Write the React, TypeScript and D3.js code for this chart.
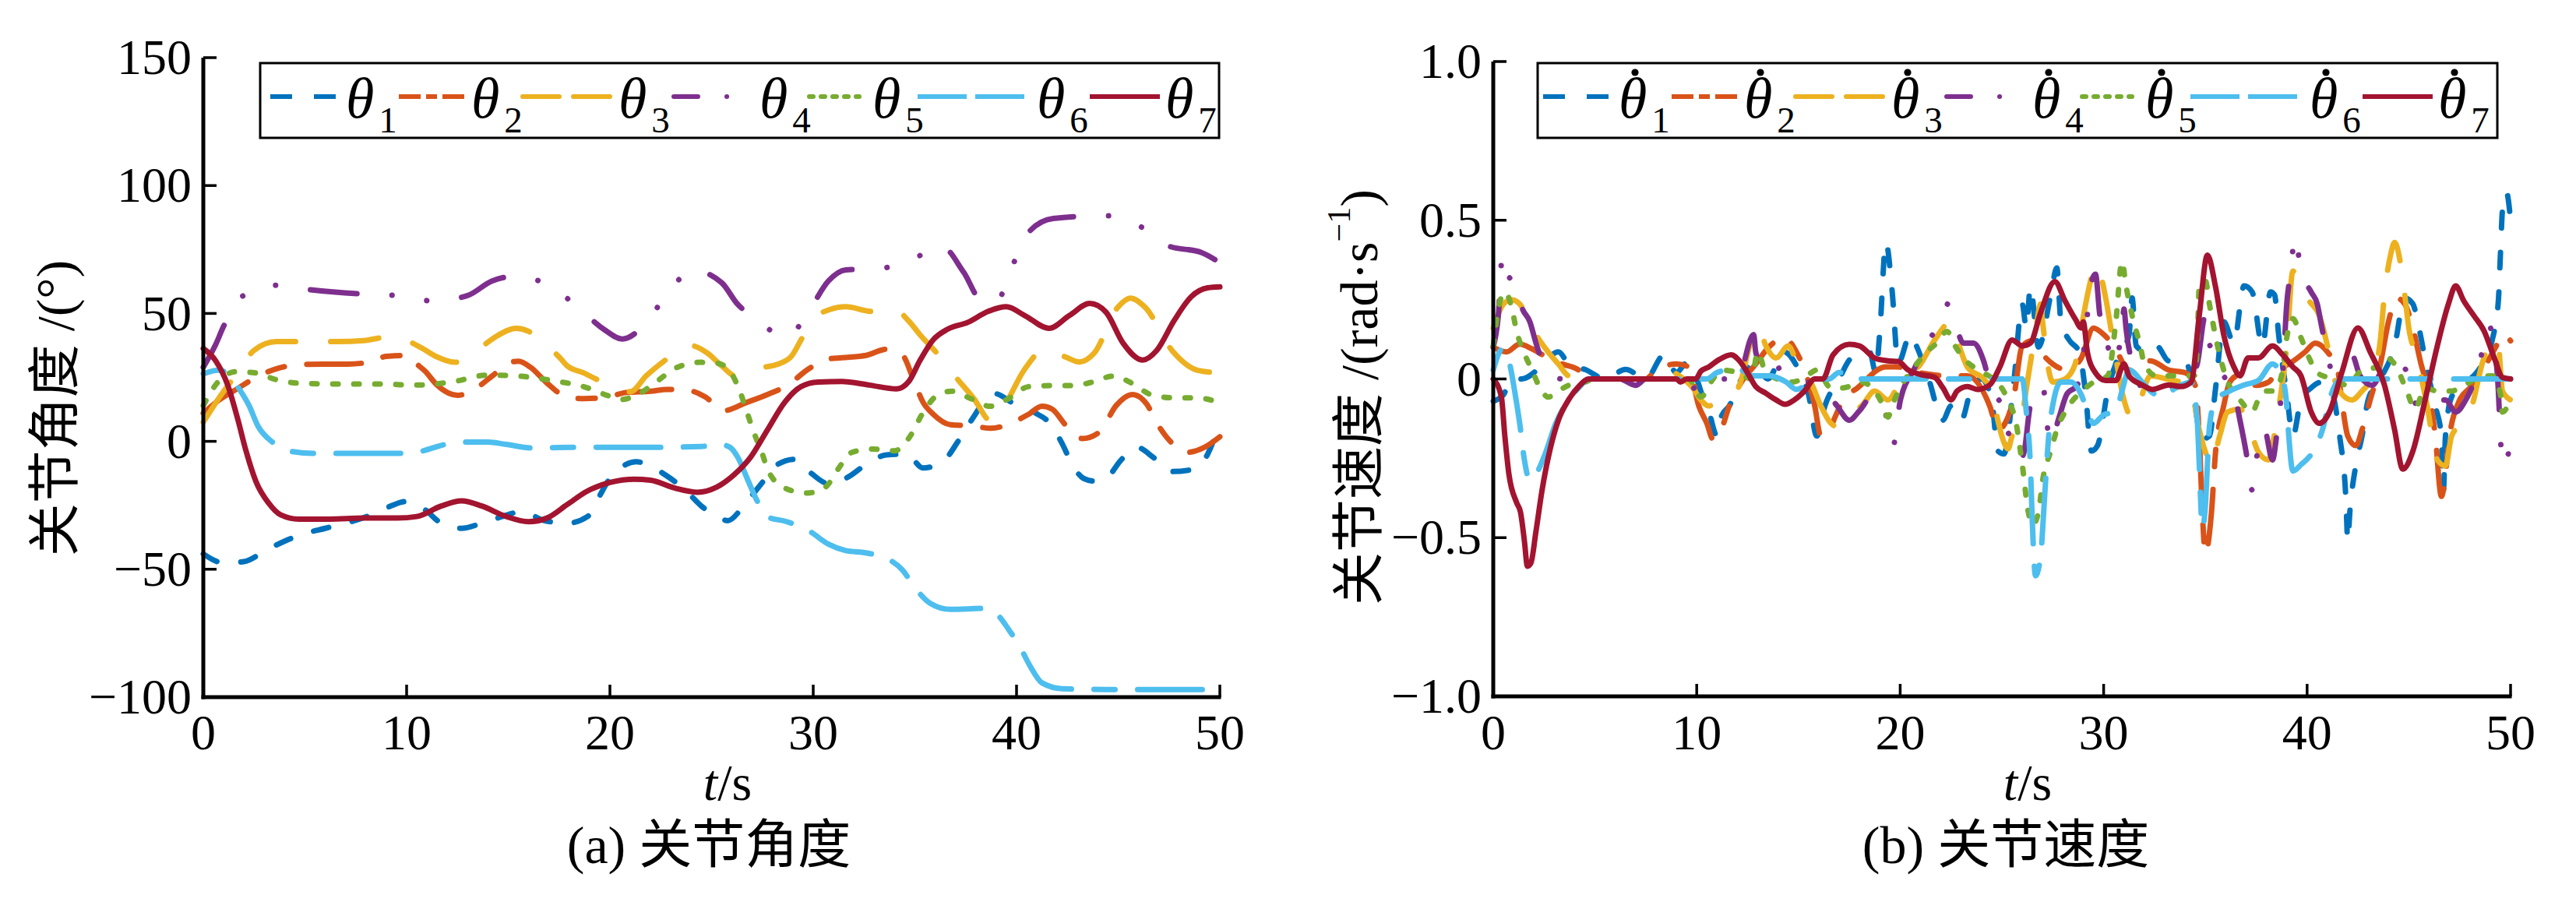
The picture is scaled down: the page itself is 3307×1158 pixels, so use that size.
import React from 'react';
import * as d3 from 'd3';

type Pt = [number, number];

const COLORS = ['#0072BD', '#D95319', '#EDB120', '#7E2F8E', '#77AC30', '#4DBEEE', '#A2142F'];
const X_TICKS = [0, 10, 20, 30, 40, 50];
const ANGLE_TICKS = [-100, -50, 0, 50, 100, 150];
const ANGLE_TICK_LABELS = ['\u2212100', '\u221250', '0', '50', '100', '150'];
const VEL_TICKS = [-1, -0.5, 0, 0.5, 1];
const VEL_TICK_LABELS = ['\u22121.0', '\u22120.5', '0', '0.5', '1.0'];
const SUBSCRIPTS = ['1', '2', '3', '4', '5', '6', '7'];

// ---- joint angles (deg) ----
const ANGLE_1: Pt[] = [[0,-44],[1,-47.5],[2,-47],[3,-43],[4,-39],[5,-36],[6,-34],[7,-32],[8,-29.5],[9,-26],[10,-23.5],[10.9,-26.7],[11.7,-32],[12.7,-34],[13.7,-32],[14.7,-29.4],[15.7,-27.4],[16.7,-30.8],[17.9,-32],[18.9,-29.4],[19.4,-22.6],[20,-14.5],[20.8,-9],[21.3,-8],[21.9,-9.3],[22.7,-13],[23.7,-19],[24.5,-25.3],[25.2,-29],[25.8,-31],[26.5,-26],[26.9,-22],[27.6,-15],[28.1,-9.8],[29.1,-7],[29.9,-12.5],[30.75,-16.5],[31.75,-13.8],[32.6,-9],[33.6,-5.3],[34.6,-5],[35.4,-10.4],[36.4,-7.7],[37.1,-0.3],[37.75,7.9],[38.9,18.7],[39.9,14.6],[40.9,11.2],[41.7,6.5],[42.25,-1],[42.7,-8.4],[43.3,-14.5],[43.9,-15.6],[44.5,-13.8],[45.1,-7.7],[45.9,-2.3],[46.75,-6.4],[47.6,-11.8],[48.6,-11.1],[49.4,-5],[49.75,1.8],[50,8.5]];
const ANGLE_2: Pt[] = [[0,11],[0.75,16],[1.7,20.7],[2.7,25.5],[3.7,28.6],[4.7,30],[5.9,30.2],[7.1,30.2],[8.1,30.9],[9,33.2],[10,33.6],[10.5,30.2],[10.9,27.5],[11.5,22],[12.5,18],[13.4,20.7],[14.2,25.5],[15.1,30.9],[15.5,31.3],[16.1,28.9],[16.9,22.8],[17.9,17.3],[18.7,16.7],[19.85,17.3],[20.8,19.1],[22,19.6],[22.8,20.3],[23.8,20],[24.7,17.3],[25.6,12],[26.75,15.3],[27.75,18.3],[28.75,22],[29.75,28.2],[30.75,32.2],[31.4,32.7],[32.6,33.6],[33.6,36],[34.4,33.6],[34.9,24.8],[35.4,15.3],[35.9,10.6],[36.75,6.5],[37.75,6.1],[38.75,5.1],[39.75,7.2],[40.6,10.6],[41.25,13.7],[41.75,12.6],[42.4,6.5],[43.25,1.1],[44.1,3.8],[44.9,14],[45.7,18.3],[46.4,14.6],[46.9,7.2],[47.6,-0.3],[48.4,-4.3],[49.25,-2.3],[50,1.8]];
const ANGLE_3: Pt[] = [[0,7.5],[0.75,16.7],[1.6,26],[2.5,35.6],[3.6,39],[4.9,39],[6.6,39],[7.9,39.4],[9.1,40.8],[9.9,39.7],[10.7,36.7],[11.5,33],[12.4,30.9],[13,33],[13.7,37],[14.4,41],[15.4,44.2],[16,43],[16.7,38.6],[17.5,33],[17.9,29.5],[18.7,26.8],[19.5,23.7],[20.3,21.7],[21,19.4],[21.8,25.7],[22.7,31.6],[23.8,37.7],[24.8,34.5],[25.5,29.5],[26.2,25.5],[27.2,28.5],[28.2,30],[28.9,33],[29.5,41],[30.2,49],[30.8,51.5],[31.6,52.6],[32.9,50.8],[34.1,51],[34.7,47],[35.25,41.7],[36.1,34.3],[36.9,26.2],[37.9,16.7],[38.75,7.9],[39.4,14],[40.4,28.2],[41.4,36],[42.4,33],[43.1,31],[43.8,34.3],[45,52.6],[45.6,56],[46.3,52.6],[47.7,35],[48.9,27.8],[50,26.8]];
const ANGLE_4: Pt[] = [[0,29],[0.6,37.7],[1,45],[1.9,56.6],[3.5,61],[5.2,59.3],[7.8,57.6],[9.5,57],[11.3,54.9],[13,57],[14.2,62.7],[15.3,64.5],[17,61],[18.4,52.6],[19.7,43.8],[20.6,40],[21.8,46.5],[22.8,57.6],[24.1,66.8],[25.5,62],[26.25,53.9],[27.2,47.6],[28.7,40.8],[29.8,51.2],[30.75,62.7],[31.6,67],[33.2,67.5],[34.75,70.6],[36.3,76.3],[37.4,66.1],[38.25,55.3],[39,54.6],[39.75,67.5],[40.45,80.4],[41.8,87.1],[44.4,88.2],[46,84.4],[47.5,76.3],[49.1,73.8],[50,69.8]];
const ANGLE_5: Pt[] = [[0,14],[0.6,22],[1.6,27.2],[2.5,26.8],[3.6,24.1],[4.6,22.8],[6.6,22.4],[8.6,22.4],[10.5,22],[12.2,23.2],[14,25.9],[15.5,25.5],[17.2,23.7],[18.7,21.4],[19.85,18],[20.5,16.3],[21.3,18],[22.3,23.4],[23.3,28.9],[24.5,30.9],[25.3,30.5],[26,26.2],[26.4,19.4],[26.75,11.2],[27.1,3.1],[27.5,-5],[27.8,-11.8],[28.7,-18.6],[29.7,-20.2],[30.6,-17.9],[31.2,-11.1],[31.9,-4.3],[32.9,-3],[34,-3.7],[34.75,1.8],[35.4,11.2],[36.1,18],[36.8,19.6],[37.75,16.7],[38.7,13.7],[39.6,16.7],[40.6,21.4],[41.75,21.8],[42.75,21.8],[43.75,23.2],[44.75,25.5],[45.75,22.4],[46.6,18.3],[47.75,17],[48.9,17],[50,15]];
const ANGLE_6: Pt[] = [[0,26.4],[0.75,27.8],[1.25,26.2],[1.75,20.7],[2.25,14],[2.7,5.8],[3.4,-0.3],[4.3,-3.9],[5.4,-4.7],[7.1,-4.7],[9.7,-4.7],[10.7,-3.9],[11.9,-1.2],[12.9,-0.3],[14,-0.3],[14.9,-1.2],[16.2,-2.6],[18.2,-2.3],[20.3,-2.3],[22.5,-2.3],[24.5,-2],[25.4,-1.2],[25.9,-2.3],[26.3,-6.4],[26.75,-14.5],[27.2,-22.6],[27.7,-29.4],[28.7,-31.4],[29.75,-34.8],[30.75,-40.2],[31.6,-42.7],[32.6,-43.6],[33.75,-46.3],[34.4,-50.4],[35,-57.2],[35.75,-63.3],[36.75,-65.7],[38.4,-65.3],[39,-67.3],[39.6,-73.4],[40.2,-80.9],[40.7,-88.3],[41.25,-94.4],[42.25,-96.7],[44.4,-97],[50,-97]];
const ANGLE_7: Pt[] = [[0,36.3],[0.6,31.6],[1.2,22],[1.7,8.5],[2.1,-3.7],[2.6,-15.9],[3.2,-24],[3.8,-28.7],[4.7,-30.4],[6.2,-30.4],[7.9,-30],[9.55,-30],[10.5,-29.4],[11.7,-25.3],[12.7,-23.3],[13.7,-25.3],[14.9,-29.4],[16,-31.4],[16.9,-30],[17.9,-24.7],[18.85,-19.6],[20,-16.1],[21.2,-14.8],[22,-15.2],[23.2,-18.3],[24.3,-19.9],[25.25,-17.9],[26.1,-13.1],[26.9,-6.4],[27.75,4.5],[28.6,15.3],[29.4,21.4],[30.25,23.2],[31.4,23.4],[32.75,22],[34.1,20.5],[34.7,23.4],[35.25,31.6],[35.9,39.7],[36.6,43.8],[37.6,46.5],[38.6,50.8],[39.5,52.6],[40.4,49.2],[41.6,44.2],[42.6,49.2],[43.6,53.9],[44.4,50.5],[45.25,38.3],[46.2,31.8],[46.9,35.6],[47.75,47.2],[48.6,56.6],[49.4,60],[50,60.4]];

// ---- joint velocities (rad/s) ----
const VEL_1: Pt[] = [[0,-0.07],[0.5,-0.05],[0.9,0],[1.4,0],[2.2,0.03],[3.2,0.085],[3.8,0.04],[4.5,0.03],[5.5,0],[6.5,0.03],[7.5,0],[8.4,0.076],[9,0.02],[9.5,0.05],[10,0],[10.3,-0.057],[10.6,-0.104],[11,-0.18],[11.2,-0.12],[11.6,-0.085],[12.2,0],[12.8,0.05],[13.5,0],[14.3,0.085],[15,0.03],[15.5,-0.05],[15.9,-0.18],[16.3,-0.085],[17,0],[17.6,0.066],[18.5,0.085],[18.8,0.02],[19,0.15],[19.3,0.43],[19.6,0.28],[19.9,0.05],[20.5,0.14],[20.8,0.104],[21.4,0],[22.1,-0.13],[22.5,-0.085],[23,-0.13],[23.5,-0.03],[24,0],[24.5,-0.066],[24.8,-0.227],[25.1,-0.236],[25.6,0],[26,0.236],[26.2,0.16],[26.4,0.29],[26.8,0.1],[27.4,0.265],[27.7,0.35],[27.9,0.18],[28.3,0.123],[28.8,0.085],[29.1,-0.038],[29.4,-0.227],[29.7,-0.21],[30.2,-0.038],[30.7,0.066],[31.25,0.14],[31.4,0.255],[31.6,0.104],[32.1,0.085],[32.6,0.104],[33.2,0.057],[34,0.057],[34.3,0],[34.5,-0.085],[34.8,-0.19],[35.2,-0.18],[35.5,-0.03],[35.9,0.18],[36.4,0.113],[36.9,0.293],[37.3,0.274],[37.8,0.104],[38.2,0.274],[38.4,0.265],[38.6,0.14],[39,-0.047],[39.3,-0.18],[39.7,-0.066],[40.2,-0.028],[40.7,-0.01],[41.2,-0.038],[41.6,-0.18],[41.9,-0.37],[42,-0.51],[42.1,-0.42],[42.4,-0.27],[42.7,-0.18],[43,-0.066],[43.6,0],[44.3,0.104],[44.8,0.255],[45.2,0.236],[45.5,0.16],[45.9,0.028],[46.3,-0.085],[46.6,-0.18],[46.7,-0.35],[46.8,-0.18],[47.1,-0.057],[47.5,-0.028],[48.6,0.047],[49.1,0.123],[49.4,0.246],[49.5,0.39],[49.6,0.53],[49.8,0.587],[50,0.5]];
const VEL_2: Pt[] = [[0,0.1],[0.65,0.085],[1.3,0.11],[1.9,0.095],[2.7,0.066],[3.4,0.047],[4.2,0.028],[4.7,0],[7.5,0],[8,0.028],[9,0.047],[9.6,0.038],[10.1,-0.085],[10.5,-0.14],[10.8,-0.19],[11.2,-0.16],[11.6,-0.085],[12.1,-0.02],[12.9,0.047],[13.6,0.104],[14.3,0.13],[14.9,0.085],[15.4,0.01],[15.8,-0.085],[16.1,-0.18],[16.45,-0.17],[16.8,-0.12],[17.2,-0.066],[17.9,-0.028],[19.3,0.038],[19.8,0.038],[21,0.019],[22.3,0.01],[23.3,0.01],[24.4,-0.085],[24.8,-0.16],[25.3,-0.12],[25.6,-0.05],[26,0.104],[26.5,0.12],[26.9,0.085],[27.5,0.047],[28.2,0.028],[28.9,0.066],[29.5,0.16],[30,0.14],[30.5,0.104],[31.25,0.028],[32.3,0.057],[33.2,0.028],[34,0.02],[34.5,-0.02],[34.7,-0.18],[34.85,-0.42],[35,-0.55],[35.3,-0.42],[35.5,-0.23],[35.9,-0.085],[36.2,-0.01],[36.6,0.01],[37.5,-0.02],[38.1,-0.01],[38.6,0.03],[39.1,0.047],[39.9,0.085],[40.4,0.113],[41,0.085],[41.5,0.028],[41.7,-0.066],[42,-0.18],[42.4,-0.21],[42.7,-0.16],[43.1,-0.066],[43.6,0.047],[44,0.18],[44.4,0.255],[44.8,0.236],[45.2,0.16],[45.6,0.047],[46,-0.047],[46.3,-0.18],[46.6,-0.37],[46.7,-0.35],[47,-0.18],[47.5,-0.066],[48,-0.028],[48.8,0.047],[49.3,0.104],[49.6,0.14],[50,0.12]];
const VEL_3: Pt[] = [[0,0.16],[0.5,0.236],[0.9,0.25],[1.3,0.236],[1.65,0.2],[2.1,0.14],[2.7,0.085],[3.2,0.047],[3.7,0.01],[4.5,0],[8,0],[8.3,0.038],[8.9,0.02],[9.8,-0.028],[10.2,-0.066],[10.6,-0.085],[11.1,-0.066],[11.6,-0.057],[12.1,-0.02],[12.6,0.104],[13,0.17],[13.4,0.104],[13.9,0.066],[14.5,0.104],[15.05,0.028],[15.6,-0.01],[16.1,-0.085],[16.6,-0.14],[16.9,-0.15],[17.5,-0.104],[18.1,-0.085],[18.75,-0.038],[19.4,-0.066],[20,-0.01],[21,0.047],[21.7,0.123],[22.5,0.18],[23,0.085],[23.3,0.038],[24.1,0],[24.5,-0.038],[24.8,-0.13],[25,-0.18],[25.3,-0.22],[25.5,-0.18],[25.9,-0.14],[26.3,0.01],[26.7,0.17],[26.9,0.236],[27,0.18],[27.3,0.028],[27.5,-0.01],[28.1,0],[28.6,0.047],[28.9,0.16],[29.3,0.293],[29.6,0.36],[29.8,0.34],[30.1,0.255],[30.5,0.104],[31,-0.066],[31.4,-0.123],[31.8,-0.066],[32.3,0.01],[33.1,0],[33.8,-0.01],[34.3,-0.02],[34.6,-0.13],[35,-0.23],[35.3,-0.27],[35.7,-0.18],[36.1,-0.104],[36.7,-0.095],[37.3,-0.18],[37.6,-0.23],[38.1,-0.255],[38.5,-0.13],[39,0.104],[39.3,0.34],[39.7,0.29],[40.1,0.246],[40.6,0.2],[41,0.104],[41.3,0.01],[41.7,-0.047],[42.2,-0.066],[42.7,-0.038],[43.2,0.01],[43.6,0.123],[43.8,0.265],[44.1,0.39],[44.3,0.43],[44.6,0.36],[44.8,0.265],[45,0.16],[45.4,0.066],[45.9,-0.085],[46.4,-0.255],[46.8,-0.274],[47.1,-0.18],[47.6,-0.14],[48.1,-0.085],[48.6,0.047],[49.1,0.123],[49.4,0.104],[49.6,-0.038],[50,-0.066]];
const VEL_4: Pt[] = [[0,0.1],[0.25,0.2],[0.45,0.39],[0.6,0.34],[1.15,0.29],[1.4,0.227],[1.8,0.18],[2.1,0.113],[2.4,0.057],[2.9,0.01],[3.4,0],[5.2,0],[5.7,-0.028],[6.2,0],[7,-0.02],[7.5,0],[9.2,0],[9.7,-0.038],[10.2,0],[12,0],[12.8,0.14],[12.9,0.085],[13.4,0.019],[14.3,0.038],[15,0],[15.9,-0.02],[16.45,-0.047],[16.9,-0.085],[17.5,-0.13],[18,-0.1],[18.6,-0.057],[19.1,-0.066],[19.5,-0.18],[19.65,-0.21],[20,-0.07],[20.8,0.047],[21.2,0.123],[21.6,0.14],[22,0.2],[22.3,0.236],[22.6,0.2],[23.1,0.113],[23.6,0.113],[24.1,0.057],[24.5,-0.038],[25,-0.085],[25.1,-0.14],[25.4,-0.18],[25.9,-0.255],[26.1,-0.227],[26.4,-0.085],[26.8,-0.047],[27,-0.02],[27.3,-0.18],[27.4,-0.2],[27.8,-0.123],[28.2,-0.047],[28.7,-0.02],[29.2,0.2],[29.3,0.274],[29.6,0.33],[29.8,0.208],[30.2,0.104],[30.5,0.047],[30.9,0.16],[31,0.22],[31.1,0.16],[31.5,0.028],[32.1,-0.038],[33,-0.028],[33.7,-0.02],[34.3,0],[34.6,0.047],[35,0.2],[35.1,0.14],[35.5,0.066],[35.9,0.01],[36.4,-0.038],[36.7,-0.13],[37,-0.23],[37.3,-0.35],[37.5,-0.255],[37.9,-0.16],[38.3,-0.255],[38.5,-0.18],[38.8,0.01],[39,0.236],[39.2,0.34],[39.4,0.45],[39.7,0.34],[40.2,0.274],[40.5,0.236],[40.7,0.17],[41.1,0.047],[41.5,-0.038],[42,0.057],[42.2,0.076],[42.6,0.01],[43.2,-0.02],[43.9,0.047],[44.5,0.047],[45,0.01],[45.4,-0.085],[45.8,-0.057],[46.3,-0.066],[46.8,-0.066],[47.3,-0.104],[47.8,-0.066],[48.3,0.01],[48.7,0.113],[48.9,0.17],[49.2,0.104],[49.4,-0.038],[49.5,-0.18],[49.6,-0.274],[50,-0.21]];
const VEL_5: Pt[] = [[0,0.104],[0.3,0.236],[0.57,0.274],[0.9,0.227],[1.15,0.15],[1.5,0.085],[1.9,0.028],[2.3,-0.028],[2.7,-0.057],[3.2,-0.038],[3.7,-0.02],[4.5,-0.01],[5,0],[9.6,0],[10.2,-0.057],[10.8,0],[11.2,0.028],[12,0.02],[12.7,0],[13,0.085],[13.4,0.02],[14.7,-0.01],[15.4,0.01],[15.9,0.028],[16.6,-0.028],[17.2,-0.028],[18.1,-0.01],[19.1,-0.076],[19.4,-0.12],[19.6,-0.085],[20,-0.028],[20.7,0.038],[21.3,0.085],[21.8,0.113],[22.3,0.15],[22.7,0.104],[23.1,0.066],[23.6,0.038],[24.1,0.019],[24.9,-0.02],[25.3,-0.066],[25.7,-0.14],[26,-0.27],[26.3,-0.42],[26.5,-0.46],[26.8,-0.42],[27,-0.32],[27.4,-0.227],[27.7,-0.16],[28.1,-0.104],[28.5,-0.066],[28.8,-0.047],[29.5,-0.01],[30.2,0.01],[30.6,0.18],[30.9,0.37],[31.1,0.293],[31.4,0.2],[31.8,0.104],[32,0.047],[32.6,0.01],[33.2,0.01],[34.45,0.01],[34.6,0.104],[34.7,0.293],[35,0.31],[35.2,0.236],[35.6,0.104],[36.1,-0.01],[36.7,-0.066],[37.3,-0.104],[37.6,-0.066],[38,-0.038],[38.4,-0.038],[38.8,0.028],[39,0.13],[39.3,0.19],[39.7,0.13],[40.1,0.066],[40.5,0.019],[41.3,0],[42,-0.02],[42.7,0.028],[43.5,0.038],[43.9,0.066],[44.3,0.047],[44.9,-0.038],[45.3,-0.095],[45.8,-0.028],[46.4,-0.038],[47.1,-0.038],[47.7,-0.02],[48.3,0],[49.1,0.01],[49.5,-0.047],[49.6,-0.104],[50,-0.066]];
const VEL_6: Pt[] = [[0,0.028],[0.45,0.095],[0.77,0.057],[1.1,-0.057],[1.3,-0.14],[1.53,-0.255],[1.8,-0.32],[2.1,-0.3],[2.55,-0.236],[3.06,-0.142],[3.6,-0.076],[4.2,-0.028],[4.7,0],[10.5,0],[11,0.02],[12,0.033],[12.75,0.01],[13.6,0.01],[14.4,-0.01],[14.9,-0.033],[15.4,-0.019],[15.9,0],[16.5,0],[17,0.02],[17.5,0.02],[18,0],[26,0],[26.2,-0.104],[26.4,-0.274],[26.5,-0.46],[26.65,-0.62],[26.9,-0.56],[27.1,-0.37],[27.3,-0.18],[27.55,-0.066],[27.9,-0.01],[28.4,-0.01],[28.9,-0.05],[29.2,-0.1],[29.5,-0.14],[30,-0.113],[30.6,-0.104],[30.9,-0.038],[31.25,0.028],[31.9,-0.01],[32.3,-0.038],[32.9,-0.057],[33.5,-0.03],[34.3,-0.01],[34.6,-0.13],[34.7,-0.27],[34.85,-0.47],[35,-0.4],[35.1,-0.27],[35.2,-0.15],[35.5,-0.066],[36.2,-0.038],[36.9,-0.019],[37.6,-0.005],[38.3,0.047],[38.8,0],[39,-0.085],[39.1,-0.18],[39.3,-0.29],[39.7,-0.27],[40.3,-0.227],[40.8,-0.15],[41.1,-0.066],[41.7,0],[50,0]];
const VEL_7: Pt[] = [[0,0],[0.4,-0.057],[0.57,-0.18],[0.77,-0.3],[1.15,-0.39],[1.34,-0.42],[1.53,-0.51],[1.68,-0.59],[1.85,-0.58],[2.1,-0.48],[2.4,-0.35],[2.8,-0.22],[3.2,-0.13],[3.7,-0.066],[4.2,-0.024],[4.7,0],[9,0],[9.2,-0.01],[9.5,0],[9.95,0],[10.2,0.024],[10.6,0.038],[11.1,0.061],[11.7,0.076],[12.1,0.057],[12.5,0.019],[12.9,-0.024],[13.4,-0.045],[13.9,-0.066],[14.35,-0.08],[14.8,-0.066],[15.3,-0.038],[15.8,0],[16.2,0],[16.7,0.076],[17.5,0.109],[18,0.104],[18.75,0.066],[19.4,0.057],[19.9,0.055],[20.4,0.028],[21,0.014],[21.7,0.005],[22.1,-0.028],[22.5,-0.066],[22.8,-0.038],[23.3,-0.024],[23.8,-0.033],[24.4,-0.019],[24.9,0.038],[25.5,0.123],[26,0.104],[26.4,0.113],[26.9,0.208],[27.6,0.307],[28.1,0.246],[28.6,0.189],[28.9,0.161],[29,0.18],[29.2,0.085],[29.6,0.019],[30.1,-0.005],[30.6,-0.005],[31,0.047],[31.25,0.009],[31.9,-0.019],[32.4,-0.033],[33.2,-0.019],[33.8,-0.024],[34.3,-0.01],[34.7,0.2],[35.1,0.39],[35.5,0.29],[35.9,0.14],[36.4,0.038],[36.7,0.01],[37.1,0.066],[37.6,0.066],[38.3,0.104],[38.8,0.076],[39.3,0.038],[39.7,0.01],[40.2,-0.104],[40.6,-0.14],[41.1,-0.104],[41.7,0.019],[42.5,0.161],[43.1,0.085],[43.8,-0.019],[44.3,-0.16],[44.7,-0.284],[45.2,-0.227],[45.8,-0.066],[46.4,0.104],[46.95,0.237],[47.3,0.293],[47.7,0.246],[48.2,0.199],[48.7,0.151],[49.2,0.066],[49.6,0.005],[50,0]];

const ANGLE_SERIES = [ANGLE_1, ANGLE_2, ANGLE_3, ANGLE_4, ANGLE_5, ANGLE_6, ANGLE_7];
const VEL_SERIES = [VEL_1, VEL_2, VEL_3, VEL_4, VEL_5, VEL_6, VEL_7];

// ---- styles ----
const FONT = "'Liberation Serif','Times New Roman','Noto Sans CJK SC',serif";
const LW = 7;
const PLOT_DASH = ['20 31', '70 29 22 29', '62 45', '60 45 0.1 45 0.1 45', '7 20', '27 29 83 29', ''];
// legend sample: [lineStart, lineEnd, textStart] relative to legend box left, dash, cap
const LEGEND_ITEMS: { ls: number; le: number; ts: number; dash: string; cap: 'butt' | 'round' }[] = [
  { ls: 13, le: 97, ts: 110, dash: '28 28', cap: 'butt' },
  { ls: 178, le: 263, ts: 271, dash: '28 7 14 7', cap: 'butt' },
  { ls: 337, le: 450, ts: 460, dash: '47 18', cap: 'round' },
  { ls: 531, le: 621, ts: 641, dash: '31 37 0.1 24 0.1 200', cap: 'round' },
  { ls: 705, le: 769, ts: 786, dash: '5 10', cap: 'round' },
  { ls: 844, le: 981, ts: 997, dash: '63 11', cap: 'butt' },
  { ls: 1065, le: 1155, ts: 1162, dash: '', cap: 'butt' },
];

interface Geo {
  x0: number; x1: number; yTop: number; yBot: number;
  box: [number, number, number, number];
  legendShift: number;
  yLabelX: number; yLabelY: number; xLabelX: number; captionX: number;
}

const LEFT_GEO: Geo = { x0: 261, x1: 1566, yTop: 74, yBot: 895, box: [334, 81, 1565, 177], legendShift: 0, yLabelX: 71, yLabelY: 524, xLabelX: 934, captionX: 910 };
const RIGHT_GEO: Geo = { x0: 1917, x1: 3223, yTop: 79, yBot: 894, box: [1974, 81, 3206, 177], legendShift: -6, yLabelX: 1745, yLabelY: 510, xLabelX: 2603, captionX: 2575 };

function Panel(props: {
  g: Geo; series: Pt[][]; yDomain: [number, number]; yTicks: number[]; yTickLabels: string[];
  yLabel: React.ReactNode; caption: string; dotted: boolean;
}) {
  const { g, series, yDomain, yTicks, yTickLabels, yLabel, caption, dotted } = props;
  const x = d3.scaleLinear().domain([0, 50]).range([g.x0, g.x1]);
  const y = d3.scaleLinear().domain(yDomain).range([g.yBot, g.yTop]);
  const line = d3.line<Pt>().x((d) => x(d[0])).y((d) => y(d[1])).curve(d3.curveMonotoneX);
  const [bx0, by0, bx1, by1] = g.box;
  const legendLineY = 124;
  return (
    <g fontFamily={FONT}>
      {series.map((s, i) => (
        <path key={i} d={line(s) || ''} fill="none" stroke={COLORS[i]} strokeWidth={LW}
          strokeDasharray={PLOT_DASH[i] || undefined} strokeLinecap="round" strokeLinejoin="round" />
      ))}
      {/* axes */}
      <line x1={g.x0} y1={g.yTop} x2={g.x0} y2={g.yBot + 2.5} stroke="#000" strokeWidth={5} />
      <line x1={g.x0 - 2.5} y1={g.yBot} x2={g.x1 + 1.5} y2={g.yBot} stroke="#000" strokeWidth={5} />
      {yTicks.map((t, i) => (
        <g key={'y' + i}>
          <line x1={g.x0} x2={g.x0 + 17} y1={y(t)} y2={y(t)} stroke="#000" strokeWidth={3.5} />
          <text x={g.x0 - 15} y={y(t)} dy="0.33em" textAnchor="end" fontSize={64}>{yTickLabels[i]}</text>
        </g>
      ))}
      {X_TICKS.map((t) => (
        <g key={'x' + t}>
          <line x1={x(t)} x2={x(t)} y1={g.yBot} y2={g.yBot - 16} stroke="#000" strokeWidth={3.5} />
          <text x={x(t)} y={962} textAnchor="middle" fontSize={64}>{t}</text>
        </g>
      ))}
      {/* legend */}
      <rect x={bx0} y={by0} width={bx1 - bx0} height={by1 - by0} fill="#fff" stroke="#000" strokeWidth={3} />
      {LEGEND_ITEMS.map((it, i) => {
        const ox = bx0 + g.legendShift;
        return (
          <g key={'l' + i}>
            <line x1={ox + it.ls} x2={ox + it.le} y1={legendLineY} y2={legendLineY} stroke={COLORS[i]}
              strokeWidth={LW - 1} strokeDasharray={it.dash || undefined} strokeLinecap={it.cap} />
            <text x={ox + it.ts} y={151} fontSize={74} fontStyle="italic">
              θ<tspan fontStyle="normal" fontSize={47} dx={6} dy={19}>{SUBSCRIPTS[i]}</tspan>
            </text>
            {dotted && <circle cx={ox + it.ts + 21} cy={93} r={4.6} fill="#000" />}
          </g>
        );
      })}
      {/* labels */}
      <text transform={`translate(${g.yLabelX},${g.yLabelY}) rotate(-90)`} textAnchor="middle"
        dominantBaseline="central" fontSize={68}>{yLabel}</text>
      <text x={g.xLabelX} y={1027} textAnchor="middle" fontSize={66}>
        <tspan fontStyle="italic">t</tspan>/s
      </text>
      <text x={g.captionX} y={1108} textAnchor="middle" fontSize={68}>{caption}</text>
    </g>
  );
}

export default function App() {
  return (
    <svg width={3307} height={1158} viewBox="0 0 3307 1158"
      style={{ position: 'absolute', left: 0, top: 0, display: 'block', background: '#fff' }}>
      <rect x={0} y={0} width={3307} height={1158} fill="#fff" />
      <Panel g={LEFT_GEO} series={ANGLE_SERIES} yDomain={[-100, 150]} yTicks={ANGLE_TICKS}
        yTickLabels={ANGLE_TICK_LABELS} yLabel={'关节角度 /(°)'} caption={'(a) 关节角度'} dotted={false} />
      <Panel g={RIGHT_GEO} series={VEL_SERIES} yDomain={[-1, 1]} yTicks={VEL_TICKS}
        yTickLabels={VEL_TICK_LABELS}
        yLabel={<>关节速度 /(rad·s<tspan fontSize={42} dy={-26}>−1</tspan><tspan dy={26}>)</tspan></>}
        caption={'(b) 关节速度'} dotted={true} />
    </svg>
  );
}
